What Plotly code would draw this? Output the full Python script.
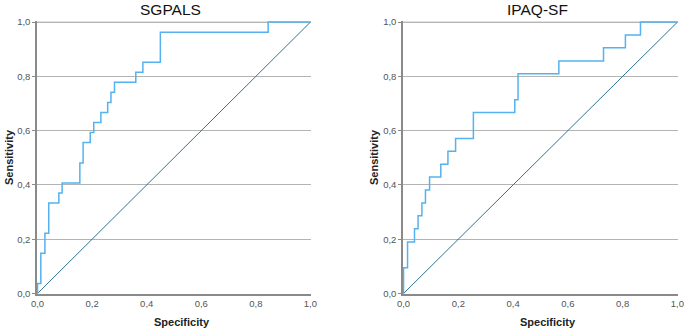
import plotly.graph_objects as go

# ROC curve corner points (x = 1 - specificity, y = sensitivity)
sgpals_fpr = [0, 0, 0.012, 0.027, 0.041, 0.078, 0.090, 0.155, 0.167, 0.193, 0.206,
              0.232, 0.257, 0.269, 0.282, 0.360, 0.386, 0.450, 0.845, 1.0]
sgpals_tpr = [0, 0.037, 0.148, 0.222, 0.333, 0.370, 0.407, 0.481, 0.556, 0.593, 0.630,
              0.667, 0.704, 0.741, 0.778, 0.815, 0.852, 0.963, 1.0, 1.0]

ipaq_fpr = [0, 0, 0.0146, 0.040, 0.053, 0.067, 0.080, 0.095, 0.136, 0.162, 0.190,
            0.255, 0.406, 0.418, 0.567, 0.730, 0.810, 0.865, 1.0]
ipaq_tpr = [0, 0.095, 0.190, 0.238, 0.286, 0.333, 0.381, 0.429, 0.476, 0.524, 0.571,
            0.667, 0.714, 0.810, 0.857, 0.905, 0.952, 1.0, 1.0]

ref_x = [0, 1]
ref_y = [0, 1]

tick_vals = [0, 0.2, 0.4, 0.6, 0.8, 1.0]
tick_text = ["0,0", "0,2", "0,4", "0,6", "0,8", "1,0"]

titles = ["SGPALS", "IPAQ-SF"]
x_title = "Specificity"
y_title = "Sensitivity"

FONT = "Arial, 'Liberation Sans', sans-serif"
CURVE = "#55b2ee"
DIAG = "#2f7491"

W, H = 685, 332
x_domains = [[37 / W, 311 / W], [403 / W, 678 / W]]
y_domain = [(H - 294) / H, (H - 21) / H]

fig = go.Figure()

curves = [(sgpals_fpr, sgpals_tpr), (ipaq_fpr, ipaq_tpr)]
for i, (fx, ty) in enumerate(curves):
    xa = "x" if i == 0 else "x2"
    ya = "y" if i == 0 else "y2"
    fig.add_trace(go.Scatter(x=ref_x, y=ref_y, mode="lines",
                             line=dict(color=DIAG, width=1), xaxis=xa, yaxis=ya,
                             showlegend=False, hoverinfo="skip"))
    fig.add_trace(go.Scatter(x=fx, y=ty, mode="lines", line_shape="hv",
                             line=dict(color=CURVE, width=1.5), xaxis=xa, yaxis=ya,
                             showlegend=False))

axis_common = dict(
    tickvals=tick_vals, ticktext=tick_text,
    tickfont=dict(family=FONT, size=9.5, color="#555555"),
    showline=True, linecolor="#8a8a8a", linewidth=1.5,
    zeroline=False, fixedrange=True, automargin=False,
)

for i in range(2):
    sx = "" if i == 0 else "2"
    fig.layout["xaxis" + sx] = dict(
        axis_common, domain=x_domains[i], range=[-0.002, 1.002],
        showgrid=False, ticks="", anchor="y" + sx,
    )
    fig.layout["yaxis" + sx] = dict(
        axis_common, domain=y_domain, range=[-0.002, 1.004],
        showgrid=True, gridcolor="#b4b4b4", gridwidth=1,
        ticks="outside", ticklen=3, tickcolor="#8a8a8a",
        anchor="x" + sx,
    )

shapes = []
for i in range(2):
    sx = "" if i == 0 else "2"
    shapes.append(dict(type="line", xref="x" + sx + " domain", yref="y" + sx,
                       x0=0, x1=1, y0=1, y1=1,
                       line=dict(color="#d8d8d8", width=1.5), layer="below"))

annotations = []
title_x = [170, 537]
xtitle_x = [182, 548]
ytitle_x = [9, 374]
for i in range(2):
    annotations.append(dict(text=titles[i], xref="paper", yref="paper",
                            x=title_x[i] / W, y=1 - 9 / H, xanchor="center", yanchor="middle",
                            showarrow=False, font=dict(family=FONT, size=15.5, color="#111111")))
    annotations.append(dict(text="<b>" + x_title + "</b>", xref="paper", yref="paper",
                            x=xtitle_x[i] / W, y=1 - 322 / H, xanchor="center", yanchor="middle",
                            showarrow=False, font=dict(family=FONT, size=11, color="#222222")))
    annotations.append(dict(text="<b>" + y_title + "</b>", xref="paper", yref="paper",
                            x=ytitle_x[i] / W, y=1 - 157 / H, xanchor="center", yanchor="middle",
                            textangle=-90,
                            showarrow=False, font=dict(family=FONT, size=11, color="#222222")))

fig.update_layout(
    width=W, height=H,
    margin=dict(l=0, r=0, t=0, b=0, autoexpand=False),
    paper_bgcolor="white", plot_bgcolor="white",
    shapes=shapes, annotations=annotations,
)

fig.write_html("out.html", config={"displayModeBar": False},
               post_script="document.body.style.margin='0';document.body.style.overflow='hidden';")
